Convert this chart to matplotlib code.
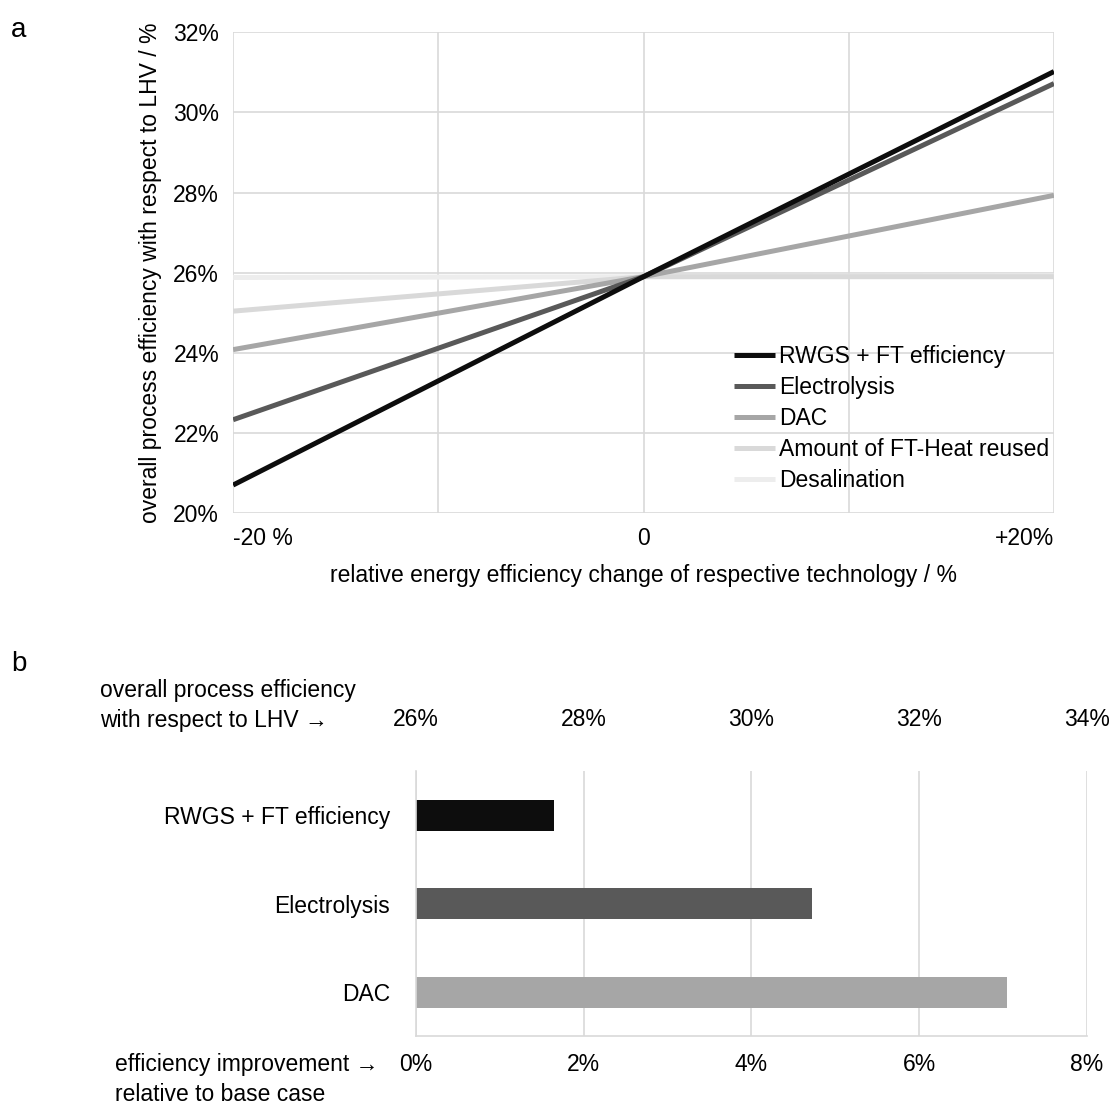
import matplotlib
matplotlib.use('Agg')
import matplotlib.pyplot as plt

plt.rcParams['font.family'] = ['Liberation Sans', 'DejaVu Sans']

# Dados - painel a (sensibilidade)
x_change = [-20, 0, 20]
series_names = ['RWGS + FT efficiency', 'Electrolysis', 'DAC',
                'Amount of FT-Heat reused', 'Desalination']
rwgs = [20.70, 25.90, 31.02]
electrolysis = [22.33, 25.90, 30.72]
dac = [24.08, 25.90, 27.93]
ft_heat = [25.04, 25.90, 25.90]
desalination = [25.88, 25.90, 25.92]
line_colors = ['#0d0d0d', '#595959', '#a6a6a6', '#d9d9d9', '#ededed']

# Dados - painel b (melhoria de eficiência)
bar_names = ['RWGS + FT efficiency', 'Electrolysis', 'DAC']
bar_values = [1.64, 4.72, 7.05]
bar_colors = ['#0d0d0d', '#595959', '#a6a6a6']
top_ticks = [26, 28, 30, 32, 34]

fig = plt.figure(figsize=(11.1, 11.13), dpi=100)
grid_c = '#d9d9d9'
fs = 16.5

# ---------- painel a ----------
ax = fig.add_axes([0.21, 0.539, 0.7395, 0.432])
all_series = [rwgs, electrolysis, dac, ft_heat, desalination]
for vals, name, c in zip(all_series[::-1], series_names[::-1], line_colors[::-1]):
    ax.plot(x_change, vals, color=c, lw=3.6, label=name, solid_capstyle='butt')
ax.set_xlim(-20, 20)
ax.set_ylim(20, 32)
ax.set_xticks([-20, -10, 0, 10, 20])
ax.set_xticklabels(['-20 %', '', '0', '', '+20%'])
labs = ax.get_xticklabels()
labs[0].set_horizontalalignment('left')
labs[-1].set_horizontalalignment('right')
ax.set_yticks(range(20, 33, 2))
ax.set_yticklabels([f'{v}%' for v in range(20, 33, 2)])
ax.grid(True, color=grid_c, lw=1.2)
ax.set_axisbelow(True)
for s in ax.spines.values():
    s.set_visible(False)
ax.tick_params(length=0, labelsize=fs, pad=10)
ax.set_xlabel('relative energy efficiency change of respective technology / %',
              fontsize=fs, labelpad=10)
ax.set_ylabel('overall process efficiency with respect to LHV / %', fontsize=fs, labelpad=8)

handles, labels = ax.get_legend_handles_labels()
ax.legend(handles[::-1], labels[::-1], loc='upper left', bbox_to_anchor=(0.651, 0.7),
          bbox_transform=fig.transFigure, frameon=False, fontsize=fs,
          handlelength=1.8, handletextpad=0.15, labelspacing=0.34, borderpad=0)

fig.text(0.01, 0.985, 'a', fontsize=20, va='top')
fig.text(0.01, 0.415, 'b', fontsize=20, va='top')

# ---------- painel b ----------
bx = fig.add_axes([0.375, 0.069, 0.604, 0.238])
ypos = range(len(bar_names))
bx.barh(list(ypos), bar_values, height=0.35, color=bar_colors)
bx.set_ylim(len(bar_names) - 0.5, -0.5)
bx.set_yticks(list(ypos))
bx.set_yticklabels(bar_names)
bx.set_xlim(0, 8)
bx.set_xticks(range(0, 9, 2))
bx.set_xticklabels([f'{v}%' for v in range(0, 9, 2)])
bx.grid(True, axis='x', color=grid_c, lw=1.2)
bx.set_axisbelow(True)
for k in ['top', 'right']:
    bx.spines[k].set_visible(False)
for k in ['left', 'bottom']:
    bx.spines[k].set_color(grid_c)
    bx.spines[k].set_linewidth(1.2)
bx.tick_params(length=0, labelsize=fs)
bx.tick_params(axis='x', pad=12)
bx.tick_params(axis='y', pad=19)

tx = bx.twiny()
tx.set_xlim(top_ticks[0], top_ticks[-1])
tx.set_xticks(top_ticks)
tx.set_xticklabels([f'{v}%' for v in top_ticks])
tx.tick_params(length=0, labelsize=fs, pad=29)
for s in tx.spines.values():
    s.set_visible(False)

fig.text(0.09, 0.366, 'overall process efficiency\nwith respect to LHV \u2192',
         fontsize=fs, ha='left', va='center', linespacing=1.35)
fig.text(0.104, 0.03, 'efficiency improvement \u2192\nrelative to base case',
         fontsize=fs, ha='left', va='center', linespacing=1.35)

fig.savefig('out.png', dpi=100)
